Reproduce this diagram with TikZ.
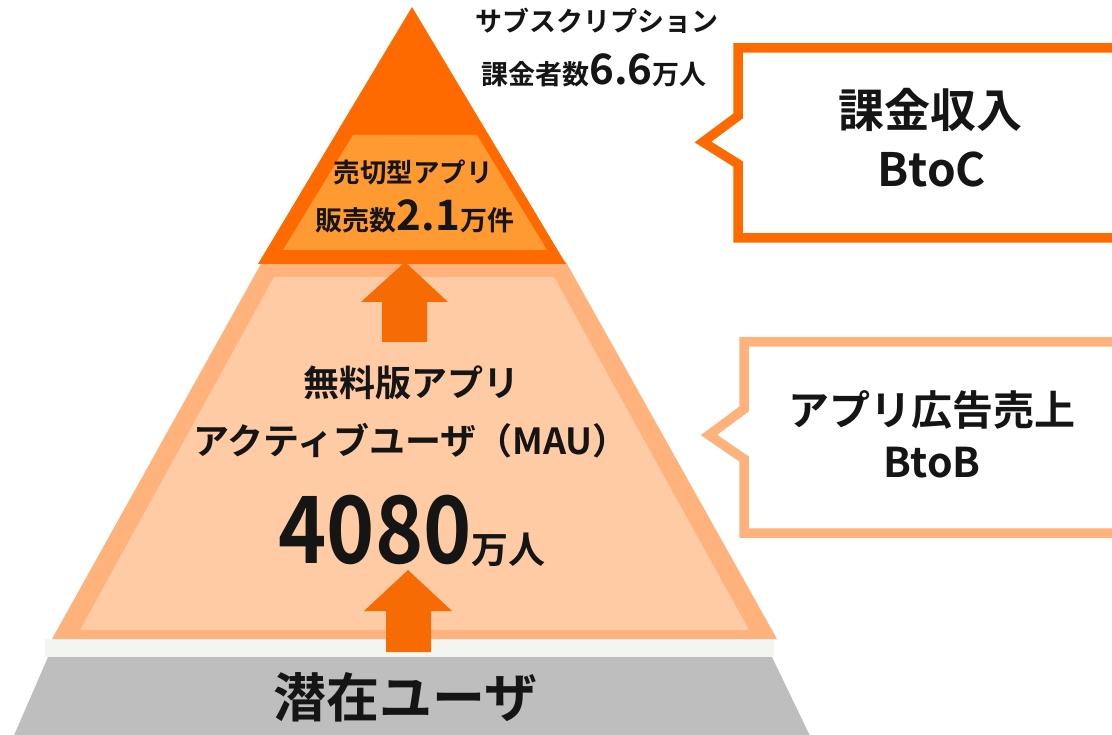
\documentclass[tikz,border=0pt]{standalone}
\usepackage{fontspec}
\setmainfont{Noto Sans CJK JP}[BoldFont={Noto Sans CJK JP Bold}]
\definecolor{darkor}{HTML}{FF6A00}
\definecolor{midor}{HTML}{FF9A33}
\definecolor{bandor}{HTML}{FFB27B}
\definecolor{fillor}{HTML}{FFCBA4}
\definecolor{arrowor}{HTML}{F76B05}
\definecolor{stripc}{HTML}{F3F5F1}
\definecolor{grayc}{HTML}{BEBEBE}
\definecolor{txtc}{HTML}{151515}
\newcommand{\fs}[1]{\fontsize{#1}{#1}\selectfont}
\begin{document}
\begin{tikzpicture}[x=1pt,y=-1pt,
  txt/.style={inner sep=0pt, anchor=base, font=\bfseries, text=txtc},
  arrowshape/.style={fill=arrowor, draw=none},
  callout/.style={line width=9.5pt, fill=white, line join=miter}]
\useasboundingbox (0,0) rectangle (1112,735);
\clip (0,0) rectangle (1112,735);
% gray base
\fill[grayc] (48,657) -- (772,657) -- (812,740) -- (12,740) -- cycle;
% strip
\fill[stripc] (45,639) rectangle (774,657);
% middle trapezoid
\fill[bandor] (262,262) -- (566,262) -- (777,639) -- (52,639) -- cycle;
\fill[fillor] (274,277) -- (554,277) -- (749,630) -- (80,630) -- cycle;
% top triangle
\fill[darkor] (412,7) -- (566,264) -- (258,264) -- cycle;
\fill[midor] (353,135) -- (477,135) -- (547,250) -- (283,250) -- cycle;
% arrows
\fill[arrowshape] (405,262) -- (448,302) -- (427,302) -- (427,342) -- (382,342) -- (382,302) -- (361,302) -- cycle;
\fill[arrowshape] (408,570) -- (452,611) -- (431,611) -- (431,652) -- (386,652) -- (386,611) -- (364,611) -- cycle;
% callouts
\draw[callout, draw=darkor] (1130,48) -- (738,48) -- (738,116) -- (703,142) -- (738,164) -- (738,238) -- (1130,238);
\draw[callout, draw=bandor] (1130,342) -- (744,342) -- (744,409) -- (709,435) -- (744,459) -- (744,533) -- (1130,533);
% texts
\node[txt] (sub1) at (597,32) {\fs{27}サブスクリプション};
\node[txt] (sub2) at (594,85) {\fs{27}課金者数{\fs{42}6.6}万人};
\node[txt] (sell1) at (413,183) {\fs{26.5}売切型アプリ};
\node[txt] (sell2) at (415,231) {\fs{27}販売数{\fs{42}2.1}万件};
\node[txt] (free1) at (411,397) {\fs{36}無料版アプリ};
\node[txt] (free2) at (411,454) {\fs{36}アクティブユーザ（MAU）};
\node[txt] (mau) at (412,563) {\fs{93}\scalebox{0.88}[1]{4080}\fs{37}万人};
\node[txt] (pot) at (405,717) {\fs{53}潜在ユーザ};
\node[txt] (c1a) at (930,128) {\fs{46}課金収入};
\node[txt] (c1b) at (932,187) {\fs{46}BtoC};
\node[txt] (c2a) at (932,425) {\fs{41}アプリ広告売上};
\node[txt] (c2b) at (932,478) {\fs{41}BtoB};
\end{tikzpicture}
\end{document}
